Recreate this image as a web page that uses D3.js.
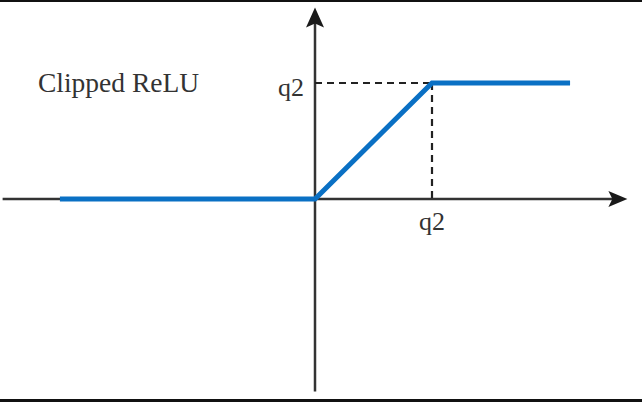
<!DOCTYPE html>
<html><head><meta charset="utf-8">
<script src="https://cdn.jsdelivr.net/npm/d3@7"></script>
<style>html,body{margin:0;padding:0;background:#fff;}svg{display:block;}</style>
</head><body>
<script>
// Data (in units of q2)
const q2 = 1;
const reluX = [-2.18, 0, q2, 2.18];
const reluY = [0, 0, q2, q2];
const xAxisExtent = [-2.67, 2.67];
const yAxisExtent = [-1.66, 1.65];
const tickLabels = ["q2", "q2"];
const title = "Clipped ReLU";

const W = 642, H = 402;
const svg = d3.select("body").append("svg").attr("width", W).attr("height", H);
svg.append("rect").attr("width", W).attr("height", H).attr("fill", "#fff");

const x = d3.scaleLinear().domain([0, 1]).range([315, 432]);
const y = d3.scaleLinear().domain([0, 1]).range([199, 83]);

const axisColor = "#333";
// border top and bottom
svg.append("rect").attr("x", 0).attr("y", 0).attr("width", W).attr("height", 2).attr("fill", "#111");
svg.append("rect").attr("x", 0).attr("y", 399).attr("width", W).attr("height", 3).attr("fill", "#111");

// horizontal axis
const xTip = x(xAxisExtent[1]);
svg.append("line").attr("x1", x(xAxisExtent[0])).attr("x2", xTip - 12)
  .attr("y1", y(0)).attr("y2", y(0)).attr("stroke", axisColor).attr("stroke-width", 2.5);
svg.append("path")
  .attr("d", `M${xTip},${y(0)} L${xTip-19},${y(0)-8} L${xTip-15},${y(0)} L${xTip-19},${y(0)+8} Z`)
  .attr("fill", "#1a1a1a");

// vertical axis
const yTip = y(yAxisExtent[1]);
svg.append("line").attr("x1", x(0)).attr("x2", x(0))
  .attr("y1", y(yAxisExtent[0])).attr("y2", yTip + 12).attr("stroke", axisColor).attr("stroke-width", 2.5);
svg.append("path")
  .attr("d", `M${x(0)},${yTip} L${x(0)-9},${yTip+20} L${x(0)},${yTip+16} L${x(0)+9},${yTip+20} Z`)
  .attr("fill", "#1a1a1a");

// dashed guides
svg.append("line").attr("x1", x(0)).attr("x2", x(q2)).attr("y1", y(q2)).attr("y2", y(q2))
  .attr("stroke", "#222").attr("stroke-width", 2.2).attr("stroke-dasharray", "7,5");
svg.append("line").attr("x1", x(q2)).attr("x2", x(q2)).attr("y1", y(q2)).attr("y2", y(0))
  .attr("stroke", "#222").attr("stroke-width", 2.2).attr("stroke-dasharray", "7,5");

// ReLU line
const pts = reluX.map((d, i) => [d, reluY[i]]);
svg.append("path").datum(pts)
  .attr("d", d3.line().x(d => x(d[0])).y(d => y(d[1])))
  .attr("fill", "none").attr("stroke", "#0a70c4").attr("stroke-width", 5)
  .attr("stroke-linejoin", "miter");

// labels
const font = "'Liberation Serif', 'Times New Roman', serif";
svg.append("text").attr("x", x(0) - 11).attr("y", y(q2) + 13).attr("text-anchor", "end")
  .attr("font-family", font).attr("font-size", 26).attr("fill", "#333").text(tickLabels[1]);
svg.append("text").attr("x", x(q2)).attr("y", y(0) + 31).attr("text-anchor", "middle")
  .attr("font-family", font).attr("font-size", 26).attr("fill", "#333").text(tickLabels[0]);
svg.append("text").attr("x", 38).attr("y", 92)
  .attr("font-family", font).attr("font-size", 27.5).attr("fill", "#333").text(title);
</script>
</body></html>
